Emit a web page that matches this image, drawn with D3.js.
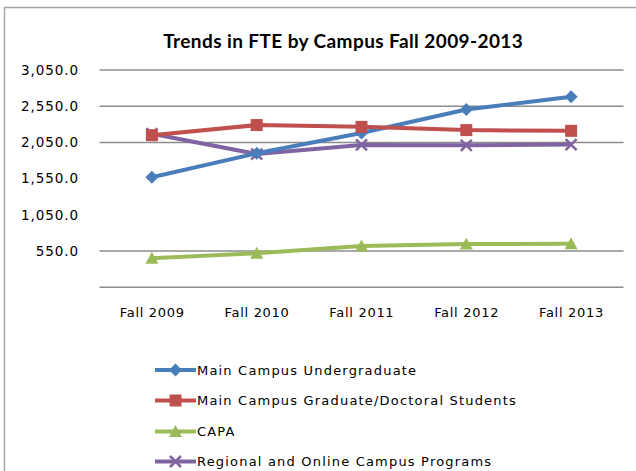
<!DOCTYPE html>
<html>
<head>
<meta charset="utf-8">
<script src="https://cdn.jsdelivr.net/npm/d3@7"></script>
<style>
  body { margin: 0; background: #fff; }
  text { font-family: "DejaVu Sans", sans-serif; fill: #000; }
  text.title { font-family: Lato, "Open Sans", sans-serif; }
</style>
</head>
<body>
<div id="chart"></div>
<script>
var categories = ["Fall 2009", "Fall 2010", "Fall 2011", "Fall 2012", "Fall 2013"];
var seriesNames = ["Main Campus Undergraduate", "Main Campus Graduate/Doctoral Students", "CAPA", "Regional and Online Campus Programs"];
var undergrad = [1570, 1900, 2180, 2505, 2680];
var graduate = [2150, 2290, 2265, 2220, 2210];
var capa = [450, 520, 620, 647, 650];
var regional = [2170, 1890, 2015, 2010, 2020];
var tickValues = [50, 550, 1050, 1550, 2050, 2550, 3050];
var gridValues = [50, 550, 2050, 2550, 3050];

var width = 636, height = 471;
var colors = ["#4a7ebb", "#c0504d", "#9bbb59", "#8064a2"];
var symbols = ["diamond", "square", "triangle", "x"];
var allSeries = [undergrad, graduate, capa, regional];

var svg = d3.select("#chart").append("svg")
  .attr("width", width)
  .attr("height", height);

// stretch letter spacing of a text group so one sample label gets the wanted width
function spread(sel, sampleNode, target) {
  var w = sampleNode.getComputedTextLength();
  var n = sampleNode.textContent.length;
  var ls = (target - w) / n;
  sel.style("letter-spacing", ls + "px");
  return ls;
}

// chart frame (runs off the right and bottom edges)
svg.append("path")
  .attr("d", "M4.5,480 V7.5 H650")
  .attr("fill", "none")
  .attr("stroke", "#a6a6a6")
  .attr("stroke-width", 1.5);

var x = d3.scaleBand().domain(categories).range([99.5, 623.5]);
var y = d3.scaleLinear().domain([50, 3050]).range([287.3, 70]);

// gridlines
svg.selectAll("line.grid")
  .data(gridValues)
  .enter().append("line")
  .attr("class", "grid")
  .attr("x1", 99.5).attr("x2", 623.5)
  .attr("y1", function(d) { return y(d); })
  .attr("y2", function(d) { return y(d); })
  .attr("stroke", "#8c8c8c")
  .attr("stroke-width", 1.5);

// y tick labels
var fmt = d3.format(",.1f");
var yl = svg.selectAll("text.ytick")
  .data(tickValues.filter(function(d) { return d > 50; }))
  .enter().append("text")
  .attr("class", "ytick")
  .attr("y", function(d) { return y(d); })
  .attr("dy", "0.35em")
  .attr("text-anchor", "end")
  .style("font-size", "13.5px")
  .text(function(d) { return fmt(d); });
var ls = spread(yl, yl.nodes()[yl.size() - 1], 58);
yl.attr("x", 78 + ls);

// x labels
var xl = svg.selectAll("text.xtick")
  .data(categories)
  .enter().append("text")
  .attr("class", "xtick")
  .attr("y", 312)
  .attr("dy", "0.35em")
  .attr("text-anchor", "middle")
  .style("font-size", "13px")
  .text(function(d) { return d; });
ls = spread(xl, xl.node(), 65);
xl.attr("x", function(d) { return x(d) + x.bandwidth() / 2 + ls / 2; });

// title
var title = svg.append("text")
  .attr("class", "title")
  .attr("y", 41)
  .attr("dy", "0.35em")
  .attr("text-anchor", "middle")
  .style("font-size", "19px")
  .style("font-weight", "bold")
  .text("Trends in FTE by Campus Fall 2009-2013");
ls = spread(title, title.node(), 360);
title.attr("x", 343 + ls / 2);

function marker(g, type, color) {
  if (type === "diamond") {
    g.append("path").attr("d", "M0,-6.5 L6.5,0 L0,6.5 L-6.5,0 Z").attr("fill", color);
  } else if (type === "square") {
    g.append("rect").attr("x", -6).attr("y", -6).attr("width", 12).attr("height", 12).attr("fill", color);
  } else if (type === "triangle") {
    g.append("path").attr("d", "M0,-6.5 L6.5,5.5 L-6.5,5.5 Z").attr("fill", color);
  } else {
    g.append("path").attr("d", "M-5.5,-5.5 L5.5,5.5 M-5.5,5.5 L5.5,-5.5")
      .attr("stroke", color).attr("stroke-width", 2.5).attr("fill", "none");
  }
}

var line = d3.line()
  .x(function(d, i) { return x(categories[i]) + x.bandwidth() / 2; })
  .y(function(d) { return y(d); });

// draw order: CAPA, regional, undergrad, graduate
[2, 3, 0, 1].forEach(function(s) {
  svg.append("path")
    .attr("d", line(allSeries[s]))
    .attr("fill", "none")
    .attr("stroke", colors[s])
    .attr("stroke-width", 4)
    .attr("stroke-linejoin", "round");
  allSeries[s].forEach(function(v, i) {
    var g = svg.append("g")
      .attr("transform", "translate(" + (x(categories[i]) + x.bandwidth() / 2) + "," + y(v) + ")");
    marker(g, symbols[s], colors[s]);
  });
});

// legend
var legendY = [370, 400.5, 431.5, 461.5];
var lg = svg.selectAll("g.legend")
  .data(seriesNames)
  .enter().append("g")
  .attr("class", "legend")
  .attr("transform", function(d, i) { return "translate(155," + legendY[i] + ")"; });
lg.append("line").attr("x1", 0).attr("x2", 41).attr("y1", 0).attr("y2", 0)
  .attr("stroke", function(d, i) { return colors[i]; }).attr("stroke-width", 4);
lg.each(function(d, i) {
  var m = d3.select(this).append("g").attr("transform", "translate(20.5,0)");
  marker(m, symbols[i], colors[i]);
});
var lt = lg.append("text")
  .attr("x", 42)
  .attr("y", 0)
  .attr("dy", "0.35em")
  .style("font-size", "13px")
  .text(function(d) { return d; });
spread(lt, lt.nodes()[1], 320);
</script>
</body>
</html>
